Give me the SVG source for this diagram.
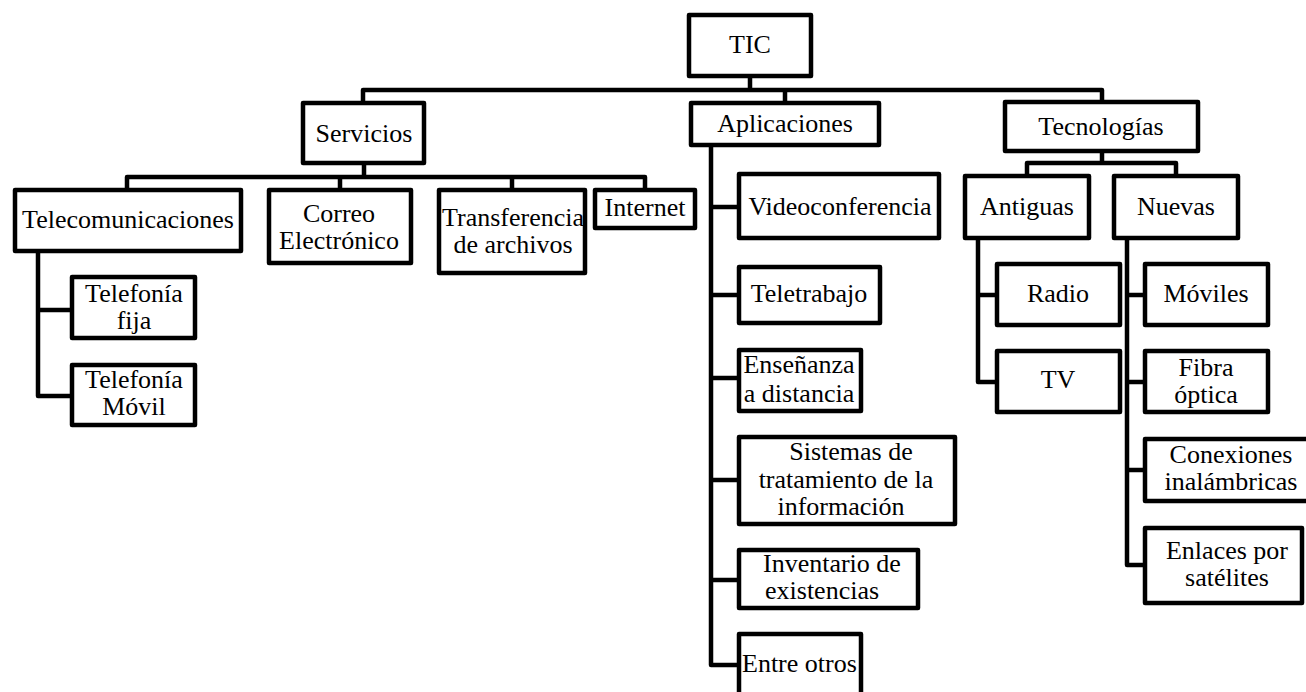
<svg xmlns="http://www.w3.org/2000/svg" width="1306" height="692" viewBox="0 0 1306 692" font-family="'Liberation Serif', 'DejaVu Serif', serif">
<style>
.b{fill:#fff;stroke:#000;stroke-width:4.5;stroke-linejoin:round}
.c{fill:none;stroke:#000;stroke-width:4.5;stroke-linejoin:round;stroke-linecap:square}
text{font-family:'Liberation Serif','DejaVu Serif',serif;font-size:26px;fill:#000;text-anchor:middle}
</style>
<rect width="1306" height="692" fill="#fff"/>
<g id="connectors">
<path class="c" d="M750 78V90M363 101V90H1102V102M785 90V103"/>
<path class="c" d="M364 165V177M127 188V177H645V190M340 177V190M512 177V190"/>
<path class="c" d="M38 253V396H72M38 310H72"/>
<path class="c" d="M711 147V665H739M711 207H739M711 295H739M711 378H739M711 480H739M711 580H739"/>
<path class="c" d="M1102 153V163M1027 176V163H1176V176"/>
<path class="c" d="M978 240V382H997M978 295H997"/>
<path class="c" d="M1127 240V565H1145M1127 295H1145M1127 382H1145M1127 470H1145"/>
</g>
<g id="tic"><rect class="b" x="689" y="15" width="122" height="61"/><text x="750" y="53">TIC</text></g>
<g id="servicios"><rect class="b" x="303" y="103" width="121" height="60"/><text x="364" y="142">Servicios</text></g>
<g id="aplicaciones"><rect class="b" x="691" y="103" width="188" height="42"/><text x="785" y="132">Aplicaciones</text></g>
<g id="tecnologias"><rect class="b" x="1005" y="102" width="193" height="49"/><text x="1101" y="135">Tecnologías</text></g>
<g id="telecom"><rect class="b" x="15" y="190" width="226" height="61"/><text x="128" y="228">Telecomunicaciones</text></g>
<g id="correo"><rect class="b" x="269" y="190" width="142" height="73"/><text x="339" y="222">Correo</text><text x="339" y="249">Electrónico</text></g>
<g id="transferencia"><rect class="b" x="439" y="190" width="146" height="83"/><text x="513" y="226">Transferencia</text><text x="513" y="253">de archivos</text></g>
<g id="internet"><rect class="b" x="595" y="190" width="100" height="38"/><text x="645" y="216">Internet</text></g>
<g id="telfija"><rect class="b" x="72" y="277" width="123" height="61"/><text x="134" y="302">Telefonía</text><text x="134" y="329">fija</text></g>
<g id="telmovil"><rect class="b" x="72" y="365" width="123" height="60"/><text x="134" y="388">Telefonía</text><text x="134" y="415">Móvil</text></g>
<g id="video"><rect class="b" x="739" y="174" width="200" height="64"/><text x="840" y="215">Videoconferencia</text></g>
<g id="teletrabajo"><rect class="b" x="739" y="267" width="141" height="56"/><text x="809" y="302">Teletrabajo</text></g>
<g id="ensenanza"><rect class="b" x="739" y="350" width="122" height="61"/><text x="799" y="373">Enseñanza</text><text x="799" y="402">a distancia</text></g>
<g id="sistemas"><rect class="b" x="739" y="437" width="216" height="87"/><text x="851" y="460">Sistemas de</text><text x="846" y="488">tratamiento de la</text><text x="841" y="515">información</text></g>
<g id="inventario"><rect class="b" x="739" y="550" width="179" height="58"/><text x="763" y="572" style="text-anchor:start">Inventario de</text><text x="765" y="599" style="text-anchor:start">existencias</text></g>
<g id="entreotros"><rect class="b" x="739" y="634" width="122" height="70"/><text x="742" y="672" style="text-anchor:start">Entre otros</text></g>
<g id="antiguas"><rect class="b" x="965" y="176" width="124" height="62"/><text x="1027" y="215">Antiguas</text></g>
<g id="nuevas"><rect class="b" x="1114" y="176" width="124" height="62"/><text x="1176" y="215">Nuevas</text></g>
<g id="radio"><rect class="b" x="997" y="264" width="123" height="61"/><text x="1058" y="302">Radio</text></g>
<g id="tv"><rect class="b" x="997" y="351" width="123" height="61"/><text x="1058" y="388">TV</text></g>
<g id="moviles"><rect class="b" x="1145" y="264" width="123" height="61"/><text x="1206" y="302">Móviles</text></g>
<g id="fibra"><rect class="b" x="1145" y="351" width="123" height="61"/><text x="1206" y="376">Fibra</text><text x="1206" y="403">óptica</text></g>
<g id="conexiones"><rect class="b" x="1145" y="439" width="165" height="62"/><text x="1231" y="463">Conexiones</text><text x="1231" y="490">inalámbricas</text></g>
<g id="enlaces"><rect class="b" x="1145" y="528" width="157" height="75"/><text x="1227" y="559">Enlaces por</text><text x="1227" y="586">satélites</text></g>
</svg>
